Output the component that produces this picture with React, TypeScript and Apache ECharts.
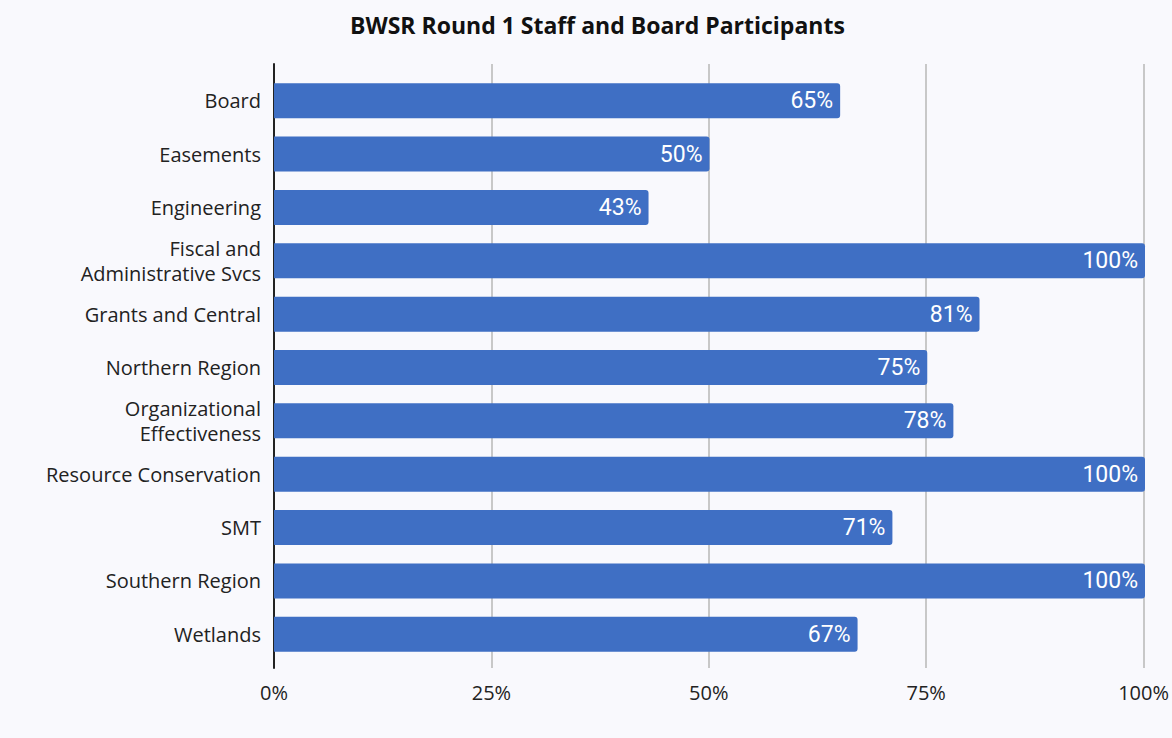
import React, { useEffect, useRef } from "react";
import * as echarts from "echarts";

const categories = [
  "Board",
  "Easements",
  "Engineering",
  "Fiscal and\nAdministrative Svcs",
  "Grants and Central",
  "Northern Region",
  "Organizational\nEffectiveness",
  "Resource Conservation",
  "SMT",
  "Southern Region",
  "Wetlands",
];
const values = [65, 50, 43, 100, 81, 75, 78, 100, 71, 100, 67];
const xTicks = [0, 25, 50, 75, 100];

export default function App() {
  const ref = useRef<HTMLDivElement>(null);
  useEffect(() => {
    const chart = echarts.init(ref.current!, null, { renderer: "svg" });
    const font = "'Open Sans', sans-serif";
    chart.setOption({
      animation: false,
      backgroundColor: "#f9f9fd",
      title: {
        text: "BWSR Round 1 Staff and Board Participants",
        left: 345,
        top: 8,
        textStyle: { fontFamily: font, fontSize: 23, fontWeight: "bold", color: "#111" },
      },
      grid: [
        { left: 274, right: 27, top: 64, bottom: 70 },
        { left: 274, right: 27, top: 74, bottom: 77 },
      ],
      xAxis: [
        {
          gridIndex: 0,
          type: "value",
          min: xTicks[0],
          max: xTicks[xTicks.length - 1],
          interval: 25,
          axisLine: { show: false },
          axisTick: { show: false },
          splitLine: { show: true, lineStyle: { color: "#c8c8c8", width: 2 } },
          axisLabel: {
            formatter: "{value}%",
            fontFamily: font,
            fontSize: 20,
            color: "#222",
            margin: 14,
          },
        },
        {
          gridIndex: 1,
          type: "value",
          min: 0,
          max: 100,
          show: false,
        },
      ],
      yAxis: [
        {
          gridIndex: 0,
          type: "value",
          min: 0,
          max: 1,
          axisLine: { show: true, onZero: false, lineStyle: { color: "#222", width: 2 } },
          axisTick: { show: false },
          axisLabel: { show: false },
          splitLine: { show: false },
        },
        {
          gridIndex: 1,
          type: "category",
          data: categories,
          inverse: true,
          axisLine: { show: false },
          axisTick: { show: false },
          axisLabel: {
            fontFamily: font,
            fontSize: 20,
            color: "#222",
            margin: 13,
            lineHeight: 25,
          },
        },
      ],
      series: [
        {
          type: "bar",
          xAxisIndex: 1,
          yAxisIndex: 1,
          data: values,
          barWidth: 35,
          itemStyle: { color: "#3f6fc4", borderRadius: [0, 3, 3, 0] },
          label: {
            show: true,
            position: "insideRight",
            formatter: "{c}%",
            color: "#fff",
            fontFamily: "Roboto, sans-serif",
            fontSize: 23,
            distance: 7,
          },
        },
      ],
    });
    return () => chart.dispose();
  }, []);
  return (
    <div
      ref={ref}
      style={{ position: "absolute", left: 0, top: 0, width: 1172, height: 738 }}
    />
  );
}
